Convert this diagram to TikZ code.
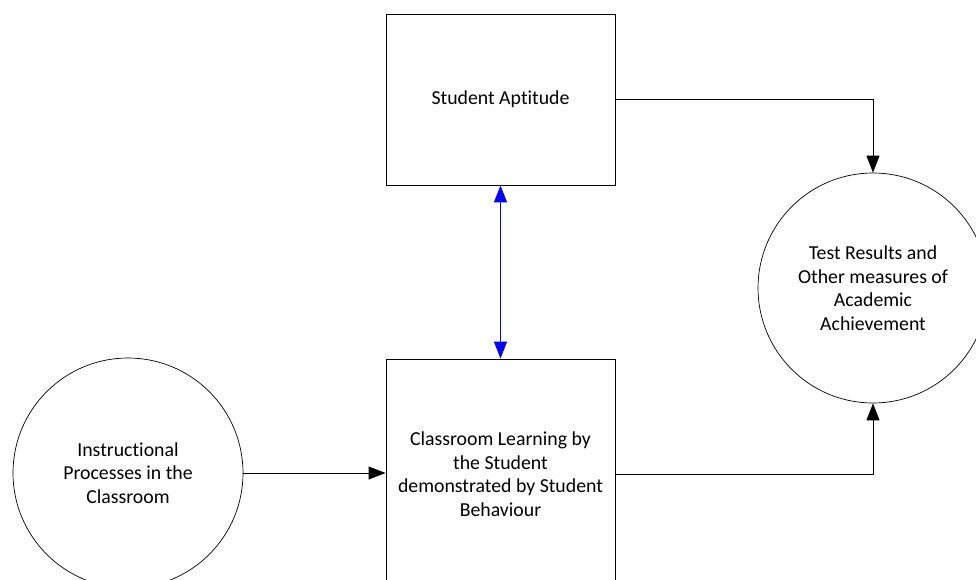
\documentclass[tikz,border=0pt]{standalone}
\usepackage{fontspec}
\setmainfont{Carlito}[Ligatures={NoCommon}]
\usetikzlibrary{arrows.meta}
\begin{document}
\begin{tikzpicture}[x=1pt,y=-1pt,
  every node/.style={font=\fontsize{19.8}{23.5}\selectfont, align=center, inner sep=0pt},
  boxnode/.style={draw=black, line width=0.9pt, minimum width=229pt},
  circnode/.style={draw=black, line width=0.7pt, circle, minimum size=230pt},
  conn/.style={draw=black, line width=0.9pt, -{Triangle[length=17pt,width=13pt]}},
  bconn/.style={draw=blue, line width=1pt, {Triangle[length=17pt,width=13pt]}-{Triangle[length=17pt,width=13pt]}}]
\useasboundingbox (0,0) rectangle (976,580);
\clip (0,0) rectangle (976,580);
\node[boxnode, minimum height=171pt] (apt) at (500.5,99.5) {Student Aptitude};
\node[boxnode, minimum height=230pt] (learn) at (500.5,474) {Classroom Learning by\\the Student\\demonstrated by Student\\Behaviour};
\node[circnode] (instr) at (128,473) {Instructional\\Processes in the\\Classroom};
\node[circnode] (test) at (873,288) {Test Results and\\Other measures of\\Academic\\Achievement};
\draw[conn] (apt.east) -| (test.north);
\draw[conn] (learn.east) -| (test.south);
\draw[bconn] (apt.south) -- (learn.north);
\draw[conn] (instr.east) -- (learn.west |- instr.east);
\end{tikzpicture}
\end{document}
